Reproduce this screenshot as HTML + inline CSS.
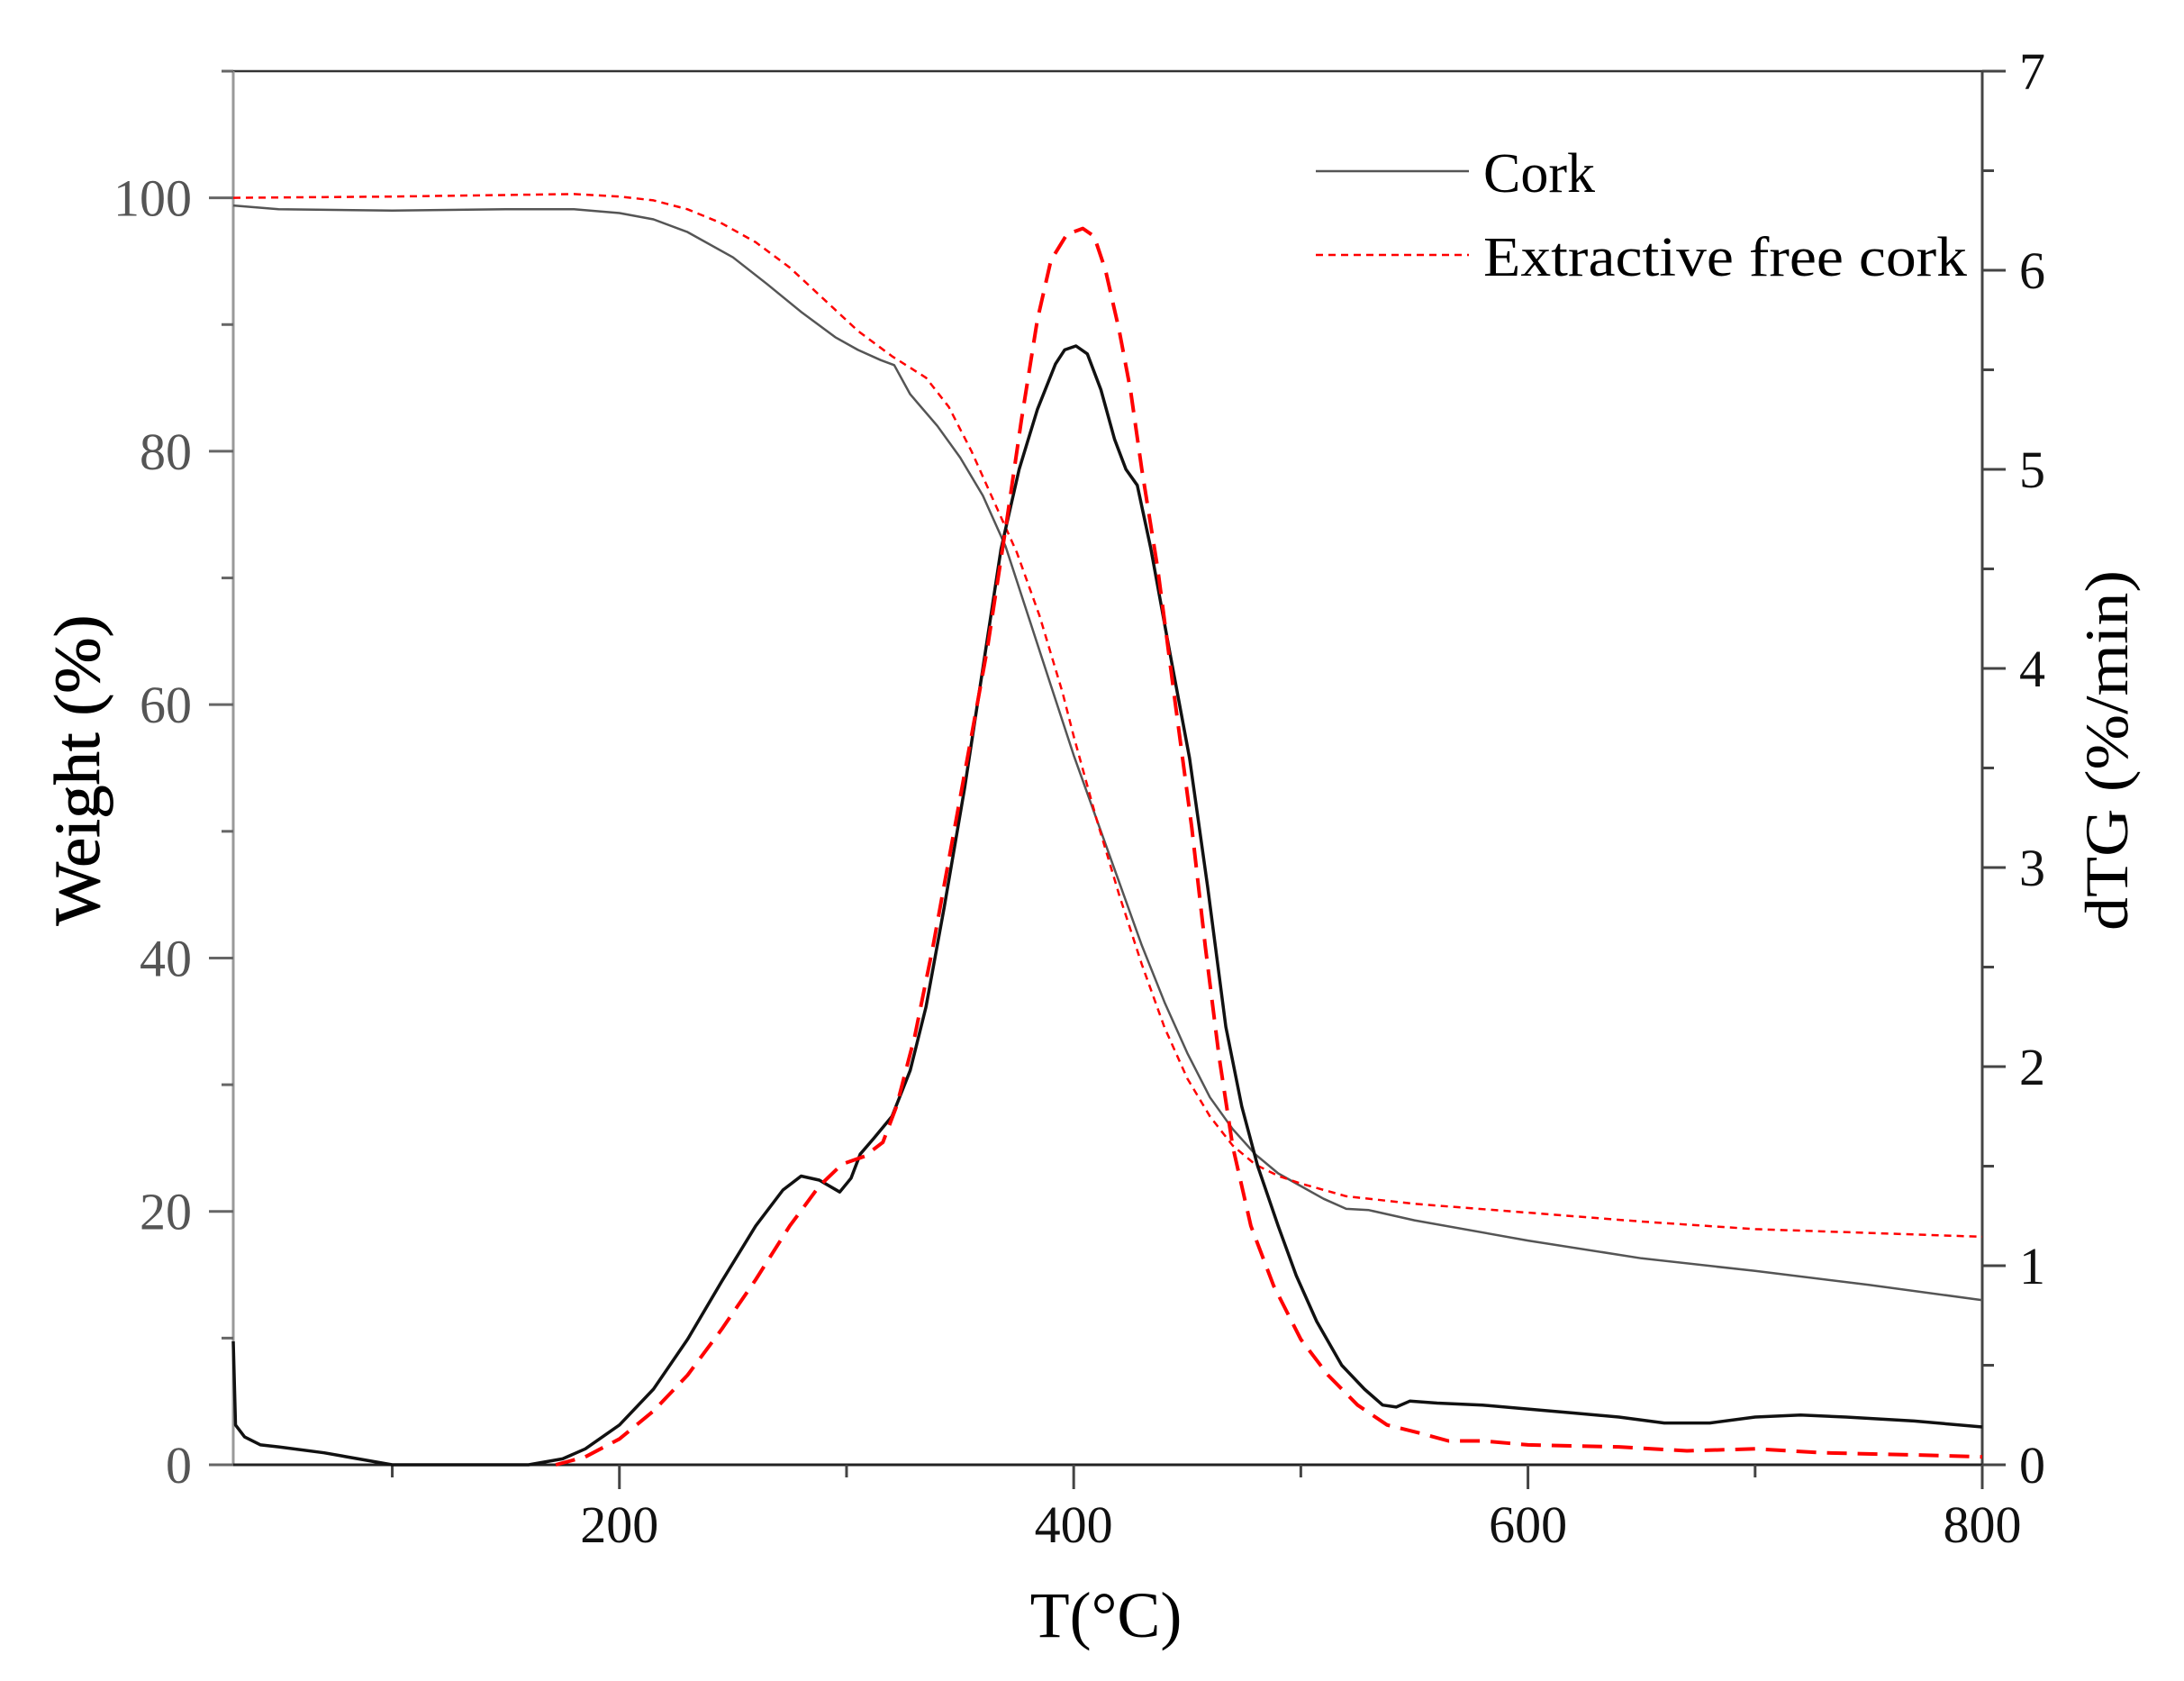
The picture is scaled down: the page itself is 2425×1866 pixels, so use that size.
<!DOCTYPE html>
<html><head><meta charset="utf-8">
<style>
html,body{margin:0;padding:0;background:#fff;}
svg{display:block;}
text{font-family:"Liberation Serif",serif;}
</style></head>
<body>
<svg id="s" width="2425" height="1866" viewBox="0 0 2425 1866" xmlns="http://www.w3.org/2000/svg">
<rect width="2425" height="1866" fill="#fff"/>
<g id="axes"></g>
<g id="series"></g>
<line x1="1461" y1="190" x2="1631" y2="190" stroke="#555" stroke-width="2.5"/>
<text x="1647" y="213" font-size="62" fill="#000">Cork</text>
<line x1="1461" y1="283" x2="1631" y2="283" stroke="#f00" stroke-width="2.5" stroke-dasharray="8,6"/>
<text x="1647" y="306" font-size="62" fill="#000" textLength="537" lengthAdjust="spacingAndGlyphs">Extractive free cork</text>
<text x="1228" y="1817" font-size="72" text-anchor="middle" fill="#000">T(°C)</text>
<text transform="translate(110,855) rotate(-90)" font-size="72" text-anchor="middle" fill="#000" stroke="#000" stroke-width="0.8" textLength="345" lengthAdjust="spacingAndGlyphs">Weight (%)</text>
<text transform="translate(2362,833) rotate(-90)" font-size="68" text-anchor="middle" fill="#000" textLength="400" lengthAdjust="spacingAndGlyphs">dTG (%/min)</text>
</svg>
<script>
(function(){
var NS="http://www.w3.org/2000/svg";
var X0=259,X1=2201,Y0=1626,YT=79;
function X(t){return X0+(t-30)*(X1-X0)/770;}
function YW(w){return Y0-w*(Y0-YT)/110;}
function YD(d){return Y0-d*(Y0-YT)/7;}
var ax=document.getElementById('axes'),se=document.getElementById('series');
function el(p,tag,a,txt){var e=document.createElementNS(NS,tag);for(var k in a)e.setAttribute(k,a[k]);if(txt!=null)e.textContent=txt;p.appendChild(e);return e;}
el(ax,'line',{x1:X0,y1:YT,x2:X1+26,y2:YT,stroke:'#333','stroke-width':2.5});
el(ax,'line',{x1:X0,y1:YT,x2:X0,y2:Y0,stroke:'#999','stroke-width':3});
el(ax,'line',{x1:X1,y1:YT,x2:X1,y2:Y0+25,stroke:'#444','stroke-width':3});
el(ax,'line',{x1:X0-27,y1:Y0,x2:X1+26,y2:Y0,stroke:'#222','stroke-width':3});
for(var t=100;t<=800;t+=100){var maj=(t%200==0);
 el(ax,'line',{x1:X(t),y1:Y0,x2:X(t),y2:Y0+(maj?27:14),stroke:'#444','stroke-width':3});
 if(maj)el(ax,'text',{x:X(t),y:1712,'font-size':58,'text-anchor':'middle',fill:'#111'},String(t));}
for(var w=0;w<=110;w+=10){var maj=(w%20==0);
 el(ax,'line',{x1:X0,y1:YW(w),x2:X0-(maj?27:13),y2:YW(w),stroke:'#666','stroke-width':3});
 if(maj)el(ax,'text',{x:213,y:YW(w)+20,'font-size':58,'text-anchor':'end',fill:'#555'},String(w));}
for(var i=0;i<=14;i++){var d=i/2,maj=(i%2==0);
 el(ax,'line',{x1:X1,y1:YD(d),x2:X1+(maj?26:13),y2:YD(d),stroke:'#444','stroke-width':3});
 if(maj)el(ax,'text',{x:2242,y:YD(d)+20,'font-size':58,fill:'#111'},String(d));}
function path(data,fy,attrs){var p='';for(var i=0;i<data.length;i++){p+=(i?'L':'M')+X(data[i][0]).toFixed(1)+','+fy(data[i][1]).toFixed(1);}attrs.d=p;attrs.fill='none';attrs['stroke-linejoin']='round';el(se,'path',attrs);}
var corkTG=[[30,99.4],[50,99.1],[100,99],[150,99.1],[180,99.1],[200,98.8],[215,98.3],[230,97.3],[250,95.3],[265,93.2],[280,91],[295,89],[305,88],[315,87.2],[321,86.8],[328,84.5],[340,82],[350,79.5],[360,76.5],[370,72.5],[380,67],[390,61.5],[400,56],[410,51],[420,46],[430,41],[440,36.5],[450,32.5],[460,29],[470,26.5],[480,24.5],[490,23],[500,22],[510,21],[520,20.2],[530,20.1],[550,19.3],[600,17.7],[650,16.3],[700,15.3],[750,14.2],[800,13]];
var efTG=[[30,100],[100,100.1],[180,100.3],[200,100.1],[215,99.8],[230,99.1],[245,98],[260,96.5],[275,94.5],[290,92],[305,89.5],[320,87.5],[335,85.8],[345,83.5],[355,80],[365,76],[375,72],[385,67],[395,61],[400,57.5],[410,51],[420,45],[430,39.5],[440,34.5],[450,30.5],[460,27.5],[470,25.2],[480,23.7],[490,22.8],[500,22.2],[520,21.2],[550,20.6],[600,19.9],[650,19.2],[700,18.6],[750,18.3],[800,18]];
var corkD=[[30,0.62],[31,0.2],[35,0.14],[42,0.1],[50,0.09],[70,0.06],[100,0.0],[160,0.0],[175,0.03],[185,0.08],[200,0.2],[215,0.38],[230,0.63],[245,0.92],[260,1.2],[272,1.38],[280,1.45],[288,1.43],[297,1.37],[302,1.44],[306,1.56],[312,1.64],[320,1.75],[328,1.98],[335,2.3],[343,2.8],[352,3.4],[360,4.0],[368,4.6],[376,5.0],[384,5.3],[392,5.53],[396,5.6],[401,5.62],[406,5.58],[412,5.4],[418,5.15],[423,5.0],[428,4.92],[434,4.6],[442,4.1],[451,3.55],[459,2.9],[467,2.2],[474,1.8],[481,1.5],[490,1.2],[498,0.95],[507,0.72],[518,0.5],[528,0.38],[536,0.3],[542,0.29],[548,0.32],[560,0.31],[580,0.3],[600,0.28],[620,0.26],[640,0.24],[660,0.21],[680,0.21],[700,0.24],[720,0.25],[740,0.24],[770,0.22],[800,0.19]];
var efD=[[172,0],[185,0.04],[200,0.13],[215,0.27],[230,0.45],[245,0.68],[260,0.93],[275,1.2],[288,1.4],[298,1.51],[308,1.55],[316,1.62],[322,1.8],[330,2.15],[338,2.6],[346,3.1],[354,3.6],[362,4.1],[370,4.7],[377,5.25],[384,5.75],[390,6.05],[397,6.18],[404,6.21],[409,6.17],[414,6.0],[420,5.7],[425,5.4],[430,5.0],[437,4.5],[445,3.8],[452,3.2],[458,2.6],[464,2.05],[470,1.6],[478,1.2],[488,0.9],[500,0.63],[512,0.45],[525,0.3],[538,0.2],[552,0.16],[565,0.12],[580,0.12],[600,0.1],[640,0.09],[670,0.07],[700,0.08],[730,0.06],[770,0.05],[800,0.04]];
path(corkTG,YW,{stroke:'#555','stroke-width':2.5});
path(efTG,YW,{stroke:'#f00','stroke-width':2.5,'stroke-dasharray':'8,6'});
path(corkD,YD,{stroke:'#111','stroke-width':3.5});
path(efD,YD,{stroke:'#f00','stroke-width':4,'stroke-dasharray':'22,12'});
})();
</script>
</body></html>
